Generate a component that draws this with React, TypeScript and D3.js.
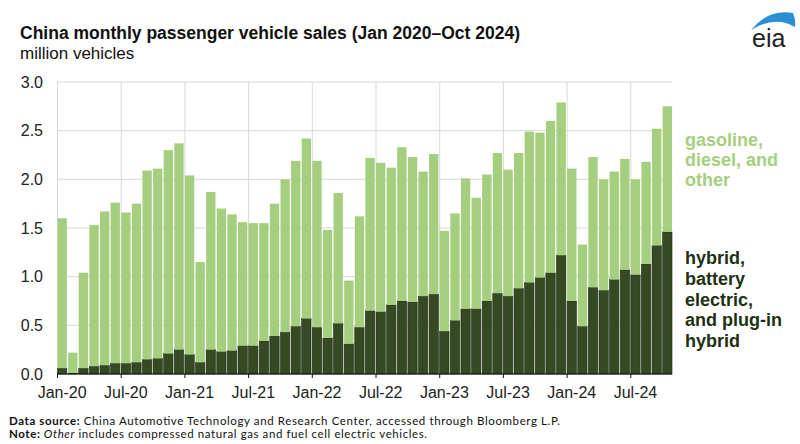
import React from "react";
import * as d3 from "d3";

// months Jan 2020 .. Oct 2024
const months: string[] = d3
  .timeMonths(new Date(2020, 0, 1), new Date(2024, 10, 1))
  .map((d) => d3.timeFormat("%b-%y")(d));

// hybrid, battery electric, and plug-in hybrid (million vehicles)
const nevSales = [
  0.06, 0.01, 0.06, 0.08, 0.09, 0.11, 0.11, 0.12, 0.15, 0.16, 0.21, 0.25,
  0.2, 0.12, 0.25, 0.23, 0.24, 0.29, 0.29, 0.34, 0.39, 0.43, 0.49, 0.57,
  0.48, 0.37, 0.52, 0.31, 0.48, 0.65, 0.64, 0.71, 0.75, 0.74, 0.8, 0.82,
  0.44, 0.55, 0.67, 0.67, 0.75, 0.83, 0.8, 0.88, 0.94, 0.99, 1.04, 1.22,
  0.75, 0.49, 0.89, 0.86, 0.97, 1.07, 1.02, 1.13, 1.32, 1.46,
];

// gasoline, diesel, and other (million vehicles)
const gasSales = [
  1.54, 0.21, 0.98, 1.45, 1.58, 1.65, 1.55, 1.63, 1.94, 1.95, 2.09, 2.12,
  1.84, 1.03, 1.62, 1.47, 1.4, 1.27, 1.26, 1.21, 1.36, 1.57, 1.7, 1.85,
  1.71, 1.11, 1.34, 0.65, 1.14, 1.57, 1.53, 1.41, 1.58, 1.49, 1.28, 1.44,
  1.03, 1.1, 1.34, 1.14, 1.3, 1.44, 1.3, 1.39, 1.55, 1.49, 1.56, 1.57,
  1.36, 0.84, 1.34, 1.14, 1.11, 1.14, 0.98, 1.05, 1.2, 1.29,
];

const yTicks = [0, 0.5, 1, 1.5, 2, 2.5, 3];
const xTickLabels = ["Jan-20", "Jul-20", "Jan-21", "Jul-21", "Jan-22", "Jul-22", "Jan-23", "Jul-23", "Jan-24", "Jul-24"];

const gasLabel = ["gasoline,", "diesel, and", "other"];
const nevLabel = ["hybrid,", "battery", "electric,", "and plug-in", "hybrid"];

const DARK = "#354a22";
const LIGHT = "#a5cf7f";

export default function App() {
  const width = 800;
  const height = 444;
  const margin = { top: 82, right: 128, bottom: 70, left: 57.5 };

  const rows = months.map((m, i) => ({ month: m, nev: nevSales[i], gas: gasSales[i] }));
  const series = d3.stack<any>().keys(["nev", "gas"])(rows);

  const x = d3
    .scaleBand<string>()
    .domain(months)
    .range([margin.left, width - margin.right])
    .paddingInner(0.12)
    .paddingOuter(0);

  const y = d3
    .scaleLinear()
    .domain([0, 3])
    .range([height - margin.bottom, margin.top]);

  const font = "'Liberation Sans', Arial, sans-serif";
  const x0 = margin.left;
  const x1 = width - margin.right;

  return (
    <svg
      width={width}
      height={height}
      style={{ position: "absolute", left: 0, top: 0, background: "#fff" }}
      fontFamily={font}
    >
      {/* title */}
      <text x={20} y={39} fontSize={17.5} fontWeight="bold" fill="#111">
        China monthly passenger vehicle sales (Jan 2020–Oct 2024)
      </text>
      <text x={20} y={59} fontSize={17} fill="#111">
        million vehicles
      </text>

      {/* eia logo */}
      <g>
        <path d="M751,30 Q768,9 793,13 Q796,20 795,27 Q775,15 751,30 Z" fill="#2a8fd5" />
        <text x={752} y={47} fontSize={25} fill="#222">
          eia
        </text>
      </g>

      {/* grid */}
      {yTicks.map((t) => (
        <line key={"h" + t} x1={x0} x2={x1} y1={y(t)} y2={y(t)} stroke="#d9d9d9" strokeWidth={1} />
      ))}
      {xTickLabels.map((m) => (
        <line key={"v" + m} x1={x(m)} x2={x(m)} y1={y(3)} y2={y(0)} stroke="#d9d9d9" strokeWidth={1} />
      ))}

      {/* bars */}
      {series.map((s) => (
        <g key={s.key}>
          {s.map((d: any, i: number) => (
            <rect
              key={i}
              x={x(months[i])}
              y={y(d[1])}
              width={x.bandwidth()}
              height={y(d[0]) - y(d[1])}
              fill={s.key === "nev" ? DARK : LIGHT}
              stroke={s.key === "nev" ? "#1c2a12" : "none"}
              strokeWidth={0.6}
            />
          ))}
        </g>
      ))}

      {/* x axis */}
      <line x1={x0} x2={x1} y1={y(0)} y2={y(0)} stroke="#111" strokeWidth={1.2} />
      {xTickLabels.map((m) => (
        <g key={"t" + m}>
          <line x1={x(m)} x2={x(m)} y1={y(0)} y2={y(0) + 4} stroke="#111" strokeWidth={1} />
          <text x={(x(m) as number) + x.bandwidth() / 2} y={398} fontSize={16} textAnchor="middle" fill="#222">
            {m}
          </text>
        </g>
      ))}

      {/* y labels */}
      {yTicks.map((t) => (
        <text key={"y" + t} x={43} y={y(t)} dy="0.35em" fontSize={16} textAnchor="end" fill="#222">
          {d3.format(".1f")(t)}
        </text>
      ))}

      {/* series labels */}
      <text fontSize={18} fontWeight="bold" fill={LIGHT}>
        {gasLabel.map((l, i) => (
          <tspan key={l} x={685} y={146 + i * 20}>
            {l}
          </tspan>
        ))}
      </text>
      <text fontSize={18} fontWeight="bold" fill="#1d3112">
        {nevLabel.map((l, i) => (
          <tspan key={l + i} x={685} y={264 + i * 20.8}>
            {l}
          </tspan>
        ))}
      </text>

      {/* notes */}
      <g fontFamily="Lato, 'Noto Sans', sans-serif" fontSize={11.5} fill="#111">
        <text x={9} y={425} textLength={551} lengthAdjust="spacing">
          <tspan fontWeight="bold">Data source: </tspan>
          China Automotive Technology and Research Center, accessed through Bloomberg L.P.
        </text>
        <text x={9} y={438} textLength={418} lengthAdjust="spacing">
          <tspan fontWeight="bold">Note: </tspan>
          <tspan fontStyle="italic">Other</tspan> includes compressed natural gas and fuel cell electric vehicles.
        </text>
      </g>
    </svg>
  );
}
